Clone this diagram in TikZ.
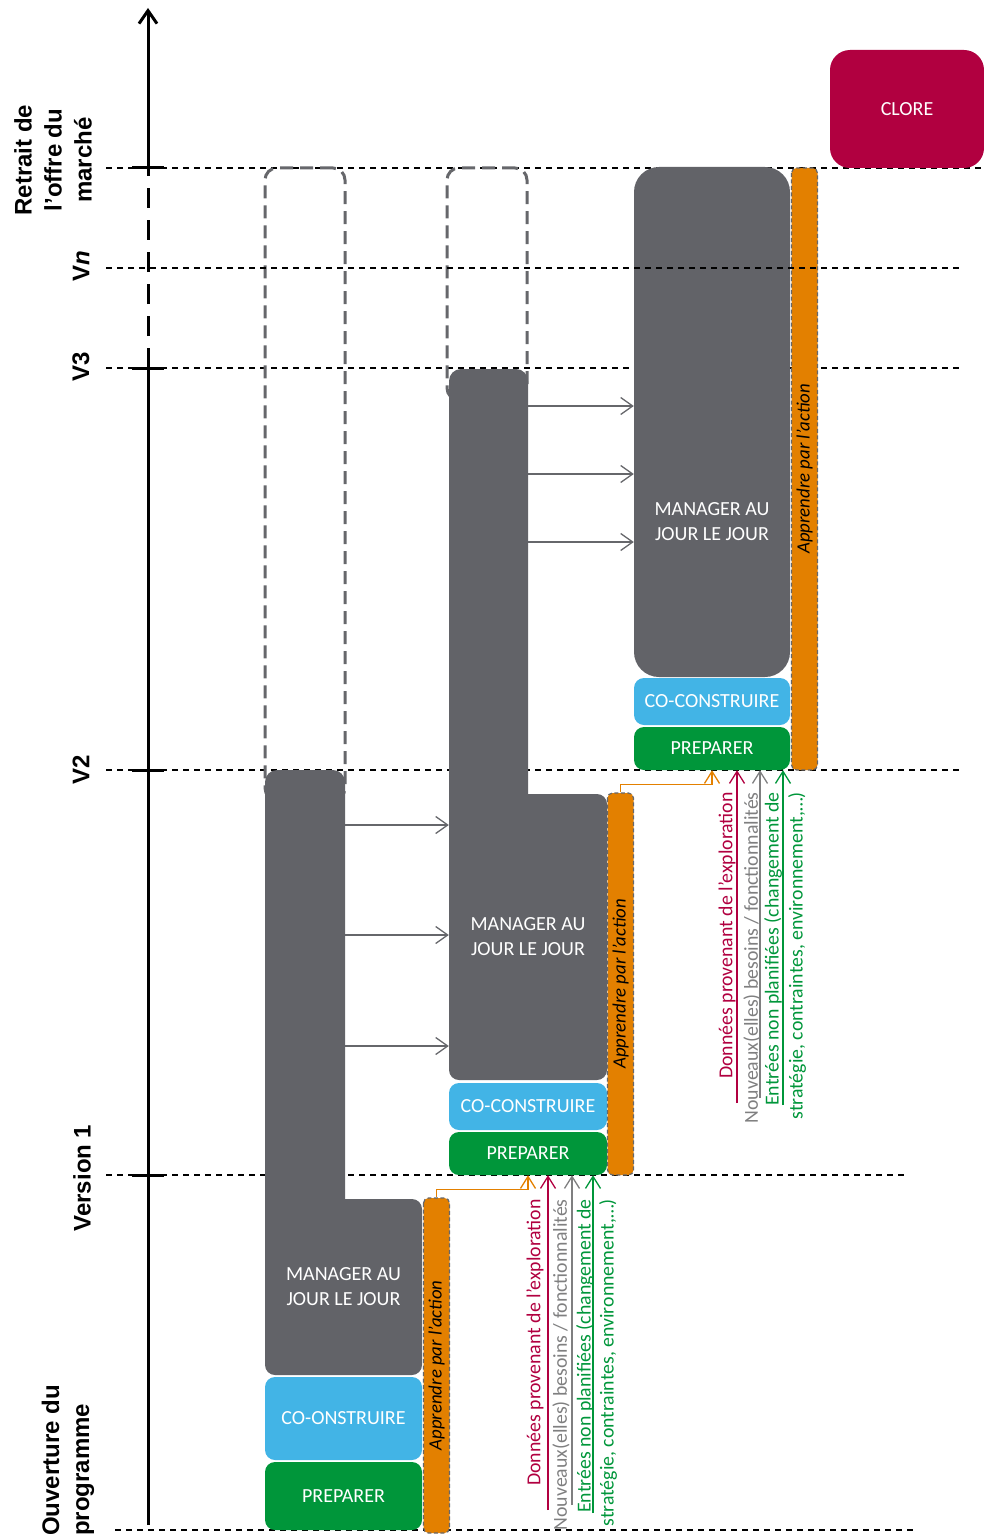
\documentclass[tikz,border=0pt]{standalone}
\usepackage{fontspec}
\setmainfont{Carlito}
\newfontfamily\axisfont{Liberation Sans}
\usetikzlibrary{arrows.meta}
\definecolor{MgrGrey}{HTML}{626368}
\definecolor{CoBlue}{HTML}{42B4E6}
\definecolor{PrepGreen}{HTML}{00963A}
\definecolor{LearnOrange}{HTML}{E38000}
\definecolor{CloseRed}{HTML}{B10040}
\definecolor{DashGrey}{HTML}{66676B}
\definecolor{NeedGrey}{HTML}{7F7F80}

\begin{document}
\begin{tikzpicture}[x=1pt,y=-1pt,
  phasebox/.style={fill=#1,rounded corners=10pt,inner sep=0pt,text=white,font=\fontsize{20}{25}\selectfont,align=center},
  mgrtext/.style={text=white,font=\fontsize{20}{25}\selectfont,align=center},
  learnbar/.style={fill=LearnOrange,draw=DashGrey,dash pattern=on 4pt off 2.5pt,line width=1.2pt,rounded corners=5pt,rotate=90,inner sep=0pt,minimum height=26pt,font=\fontsize{18.8}{22}\selectfont\itshape},
  ghostbox/.style={draw=DashGrey,line width=3pt,dash pattern=on 13pt off 7pt,rounded corners=12pt,inner sep=0pt},
  versionline/.style={line width=1.3pt,dash pattern=on 6pt off 5pt},
  timeaxis/.style={line width=3pt},
  milestone/.style={rotate=90,inner sep=0pt,font=\axisfont\bfseries\fontsize{24}{30}\selectfont,align=center},
  carry/.style={DashGrey,line width=1.3pt,-{Straight Barb[length=12pt,width=17pt]}},
  feedback/.style={LearnOrange,line width=1.3pt,-{Straight Barb[length=12pt,width=15pt]}},
  inflow/.style={#1,line width=1.3pt,-{Straight Barb[length=12pt,width=15pt]}},
  inputtext/.style={rotate=90,anchor=east,text=#1,inner sep=0pt,font=\fontsize{19.8}{23}\selectfont}
]
\useasboundingbox (0,0) rectangle (984,1538);

\draw[versionline] (106,168) -- (984,168);
\draw[versionline] (106,368) -- (962,368);
\draw[versionline] (106,770) -- (962,770);
\draw[versionline] (106,1175) -- (905,1175);
\draw[versionline] (115,1530) -- (915,1530);

\coordinate (origin) at (148,1525);
\coordinate (three) at (148,368);
\coordinate (retreat) at (148,168);
\coordinate (tip) at (148,8);
\draw[timeaxis] (origin) -- (three);
\draw[timeaxis,dash pattern=on 20pt off 12pt] (three) -- (retreat);
\draw[timeaxis,-{Straight Barb[length=13pt,width=18pt]}] (retreat) -- (tip);
\foreach \y in {168,368,770,1175} \draw[timeaxis] (132,\y) -- (164,\y);

\node[milestone] (retreatlabel) at (53,160) {Retrait de\\l’offre du\\marché};
\node[milestone] (vnlabel) at (81,266) {V\textit{n}};
\node[milestone] (vthreelabel) at (81,367) {V3};
\node[milestone] (vtwolabel) at (81,770) {V2};
\node[milestone] (vonelabel) at (82,1178) {Version 1};
\node[milestone,align=left,anchor=west] (openlabel) at (68,1536) {Ouverture du\\programme};

\node[ghostbox,minimum width=80pt,minimum height=632pt] (ghostA) at (305,484) {};
\node[ghostbox,minimum width=80pt,minimum height=232pt] (ghostB) at (487,284) {};

\node[phasebox=MgrGrey,rounded corners=12pt,minimum width=80pt,minimum height=530pt] (mgrAstem) at (305,1035) {};
\node[phasebox=MgrGrey,minimum width=157pt,minimum height=176pt] (mgrA) at (343.5,1287) {MANAGER AU\\JOUR LE JOUR};
\node[phasebox=CoBlue,minimum width=157pt,minimum height=83pt] (coA) at (343.5,1418.5) {CO-ONSTRUIRE};
\node[phasebox=PrepGreen,minimum width=157pt,minimum height=68pt] (prepA) at (343.5,1496) {PREPARER};
\node[learnbar,minimum width=335pt] (learnA) at (436.5,1365.5) {Apprendre par l’action};

\node[phasebox=MgrGrey,rounded corners=12pt,minimum width=79pt,minimum height=531pt] (mgrBstem) at (488.5,634.5) {};
\node[phasebox=MgrGrey,minimum width=158pt,minimum height=286pt] (mgrB) at (528,937) {MANAGER AU\\JOUR LE JOUR};
\node[phasebox=CoBlue,minimum width=158pt,minimum height=47pt] (coB) at (528,1106.5) {CO-CONSTRUIRE};
\node[phasebox=PrepGreen,minimum width=158pt,minimum height=43pt] (prepB) at (528,1153.5) {PREPARER};
\node[learnbar,minimum width=382pt] (learnB) at (620.5,984) {Apprendre par l’action};

\node[phasebox=MgrGrey,rounded corners=25pt,minimum width=156pt,minimum height=510pt,
  label={[mgrtext,yshift=-100pt]center:MANAGER AU\\JOUR LE JOUR}] (mgrC) at (712,422) {};
\node[phasebox=CoBlue,minimum width=156pt,minimum height=47pt] (coC) at (712,701.5) {CO-CONSTRUIRE};
\node[phasebox=PrepGreen,minimum width=156pt,minimum height=43pt] (prepC) at (712,748.5) {PREPARER};
\node[learnbar,minimum width=602pt] (learnC) at (804.5,469) {Apprendre par l’action};

\node[phasebox=CloseRed,rounded corners=20pt,minimum width=154pt,minimum height=118pt] (close) at (907,109) {CLORE};

\draw[carry] (mgrAstem.east |- 0,825) -- (mgrBstem.west |- 0,825);
\draw[carry] (mgrAstem.east |- 0,935) -- (mgrBstem.west |- 0,935);
\draw[carry] (mgrAstem.east |- 0,1046) -- (mgrBstem.west |- 0,1046);
\draw[carry] (mgrBstem.east |- 0,406) -- (mgrC.west |- 0,406);
\draw[carry] (mgrBstem.east |- 0,474) -- (mgrC.west |- 0,474);
\draw[carry] (mgrBstem.east |- 0,542) -- (mgrC.west |- 0,542);

\draw[feedback] (learnA.east) -- ++(0,-8) -| (prepB.south);
\draw[feedback] (learnB.east) -- ++(0,-8) -| (prepC.south);

\node[inputtext=CloseRed] (exploAtext) at (535,1199) {Données provenant de l’exploration};
\node[inputtext=NeedGrey] (needAtext) at (561,1199) {Nouveaux(elles) besoins / fonctionnalités};
\node[inputtext=PrepGreen] (eventAtext) at (585,1199) {Entrées non planifiées (changement de};
\node[inputtext=PrepGreen] (eventAmore) at (608,1199) {stratégie, contraintes, environnement,…)};
\coordinate (exploA) at (548,1510);
\coordinate (needA) at (572,1505);
\coordinate (eventA) at (593,1513);
\draw[inflow=CloseRed] (exploA) -- (exploA |- prepB.south);
\draw[inflow=NeedGrey] (needA) -- (needA |- prepB.south);
\draw[inflow=PrepGreen] (eventA) -- (eventA |- prepB.south);

\node[inputtext=CloseRed] (exploBtext) at (727,792) {Données provenant de l’exploration};
\node[inputtext=NeedGrey] (needBtext) at (752,792) {Nouveaux(elles) besoins / fonctionnalités};
\node[inputtext=PrepGreen] (eventBtext) at (773,792) {Entrées non planifiées (changement de};
\node[inputtext=PrepGreen] (eventBmore) at (797,792) {stratégie, contraintes, environnement,…)};
\coordinate (exploB) at (737,1103);
\coordinate (needB) at (760,1098);
\coordinate (eventB) at (783,1105);
\draw[inflow=CloseRed] (exploB) -- (exploB |- prepC.south);
\draw[inflow=NeedGrey] (needB) -- (needB |- prepC.south);
\draw[inflow=PrepGreen] (eventB) -- (eventB |- prepC.south);

\draw[versionline] (106,268) -- (962,268);
\end{tikzpicture}
\end{document}
